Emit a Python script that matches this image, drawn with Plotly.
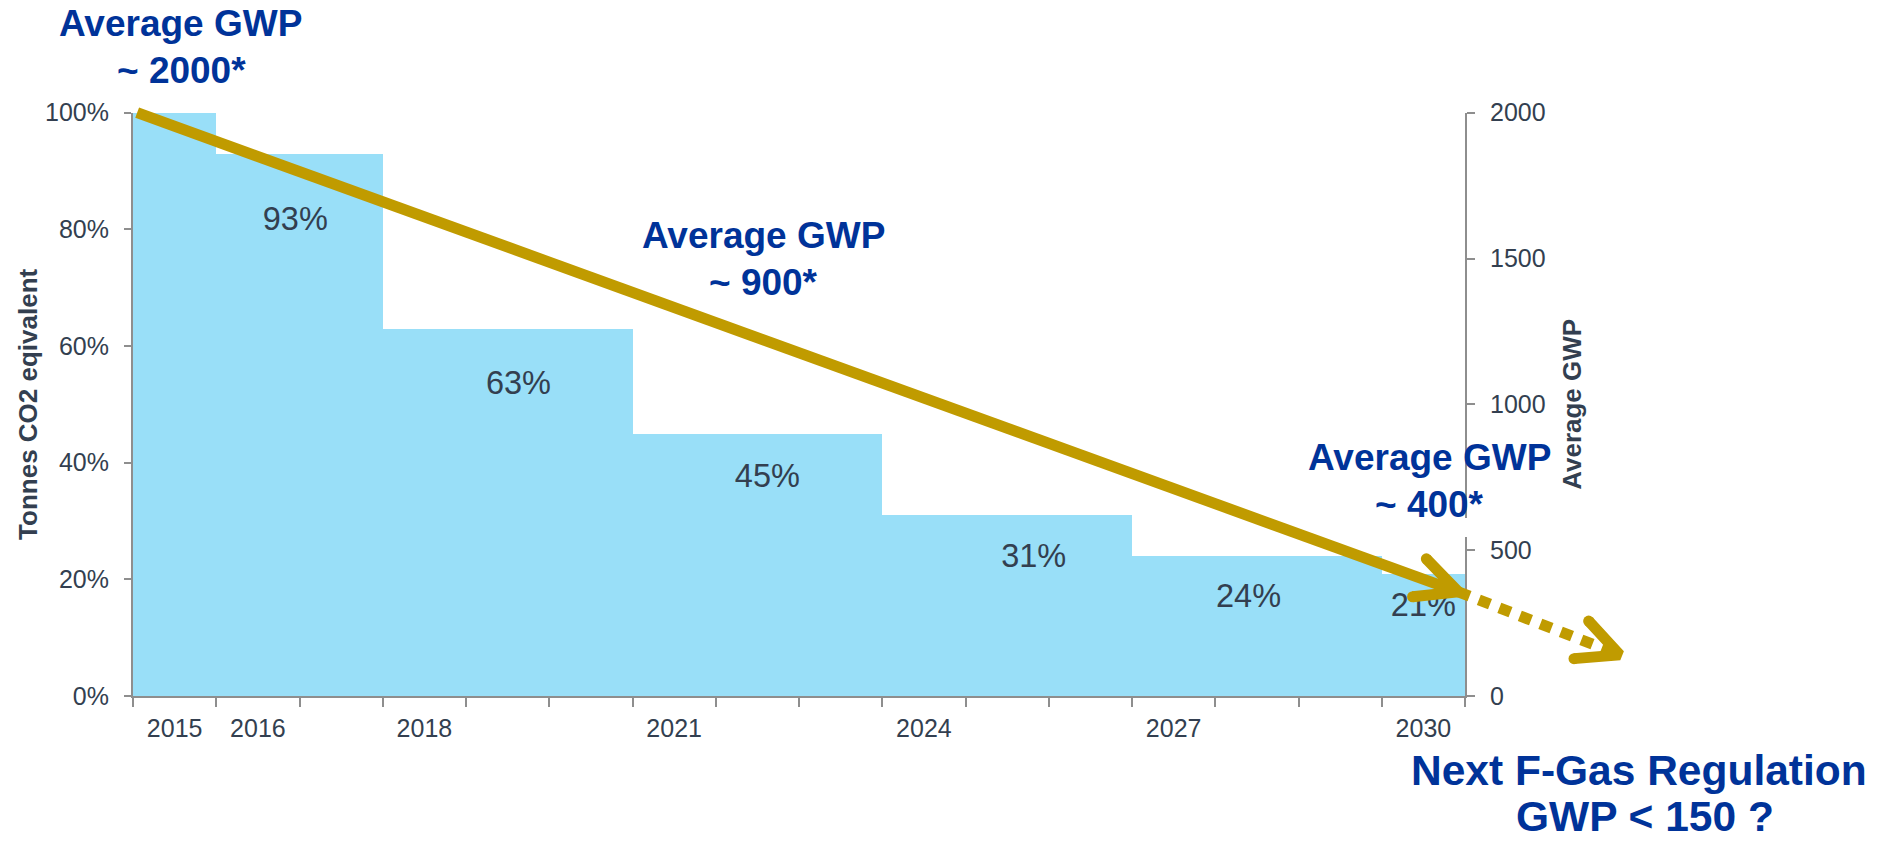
import math
import plotly.graph_objects as go

# ---------------- data ----------------
phase_years = [2015, 2016, 2018, 2021, 2024, 2027, 2030]       # phase-down steps (tick labels)
phase_pct = [100, 93, 63, 45, 31, 24, 21]                       # % of baseline CO2-eq
all_years = list(range(2015, 2031))

label_years = [2016.45, 2019.13, 2022.12, 2025.32, 2027.9, 2030.0]   # where the step labels sit
label_pct = [81.3, 53.2, 37.2, 23.5, 16.6, 15.1]

gwp_trend_years = [2014.55, 2030.42]      # average GWP trend (solid arrow)
gwp_trend_values = [2000, 357]
gwp_next_years = [2030.42, 2032.36]       # next regulation (dotted arrow)
gwp_next_values = [357, 141]

pct_ticks = [0, 20, 40, 60, 80, 100]
gwp_ticks = [0, 500, 1000, 1500, 2000]

# ---------------- derived ----------------
def pct_for(year):
    v = phase_pct[0]
    for py, pp in zip(phase_years, phase_pct):
        if py <= year:
            v = pp
    return v

pct_by_year = [pct_for(y) for y in all_years]
label_text = [f"{p}%" for p in phase_pct[1:]]

# ---------------- styling ----------------
W, H = 1882, 841
FONT = "Liberation Sans, Arial, sans-serif"
BAR = "#99DFF8"
GOLD = "#C09B00"
BLUE = "#003399"
TXT = "#333F50"
AX = "#8E8E8E"


def fx(X):
    return X / W


def fy(Y):
    return 1 - Y / H


x_dom = [fx(133), fx(1465)]
y_dom = [fy(696), fy(112.7)]
x_rng = [2014.5, 2030.5]
g_rng = [0, 2000]

# full-figure overlay axes with the same scale (for arrows that leave the plot area)
ux = (x_rng[1] - x_rng[0]) / (x_dom[1] - x_dom[0])
uy = (g_rng[1] - g_rng[0]) / (y_dom[1] - y_dom[0])
x3_rng = [x_rng[0] - x_dom[0] * ux, x_rng[1] + (1 - x_dom[1]) * ux]
y3_rng = [g_rng[0] - y_dom[0] * uy, g_rng[1] + (1 - y_dom[1]) * uy]
sx = W / (x3_rng[1] - x3_rng[0])   # px per year
sy = H / (y3_rng[1] - y3_rng[0])   # px per GWP unit


def arrow_head(xs, ys, length=46, spread=26):
    dx = (xs[-1] - xs[-2]) * sx
    dy = (ys[-1] - ys[-2]) * sy
    th = math.atan2(dy, dx) + math.pi
    hx, hy = [], []
    for s in (spread, None, -spread):
        if s is None:
            hx.append(xs[-1]); hy.append(ys[-1])
        else:
            a = th + math.radians(s)
            hx.append(xs[-1] + length * math.cos(a) / sx)
            hy.append(ys[-1] + length * math.sin(a) / sy)
    return hx, hy


fig = go.Figure()

fig.add_trace(go.Bar(
    x=all_years, y=pct_by_year, width=1,
    marker=dict(color=BAR, line=dict(width=0)),
    xaxis="x", yaxis="y", hoverinfo="skip",
))

# invisible carrier so the secondary (GWP) axis is drawn
fig.add_trace(go.Scatter(
    x=gwp_trend_years, y=gwp_trend_values, mode="lines", opacity=0,
    line=dict(width=0), xaxis="x", yaxis="y2", hoverinfo="skip",
))

fig.add_trace(go.Scatter(
    x=label_years, y=label_pct, mode="text", text=label_text,
    textfont=dict(family=FONT, size=32.5, color=TXT),
    xaxis="x", yaxis="y", cliponaxis=False, hoverinfo="skip",
))

# arrows on the overlay canvas
lw = 11
fig.add_trace(go.Scatter(
    x=gwp_trend_years, y=gwp_trend_values, mode="lines",
    line=dict(color=GOLD, width=lw), xaxis="x3", yaxis="y3", hoverinfo="skip",
))
fig.add_trace(go.Scatter(
    x=gwp_next_years, y=gwp_next_values, mode="lines",
    line=dict(color=GOLD, width=lw, dash="12px,10px"), xaxis="x3", yaxis="y3", hoverinfo="skip",
))
for xs, ys in ((gwp_trend_years, gwp_trend_values), (gwp_next_years, gwp_next_values)):
    hx, hy = arrow_head(xs, ys)
    fig.add_trace(go.Scatter(
        x=hx, y=hy, mode="lines", line=dict(color=GOLD, width=lw),
        xaxis="x3", yaxis="y3", hoverinfo="skip",
    ))
    fig.add_trace(go.Scatter(
        x=[hx[0], hx[2]], y=[hy[0], hy[2]], mode="markers",
        marker=dict(color=GOLD, size=lw, line=dict(width=0)),
        xaxis="x3", yaxis="y3", hoverinfo="skip",
    ))

tickfont = dict(family=FONT, size=25, color=TXT)
titlefont = dict(family=FONT, size=26, color=TXT, weight="bold")

fig.update_layout(
    width=W, height=H, autosize=False,
    margin=dict(l=0, r=0, t=0, b=0, autoexpand=False),
    paper_bgcolor="white", plot_bgcolor="rgba(0,0,0,0)",
    showlegend=False, bargap=0, hovermode=False,
    font=dict(family=FONT, color=TXT),
    xaxis=dict(
        domain=x_dom, range=x_rng, type="linear", anchor="y", automargin=False,
        tickvals=phase_years, ticktext=[str(y) for y in phase_years],
        ticks="", showline=True, linecolor=AX, linewidth=2,
        showgrid=False, zeroline=False, tickfont=tickfont, ticklabelstandoff=9,
        minor=dict(tick0=2014.5, dtick=1, ticks="outside", ticklen=9,
                   tickwidth=2, tickcolor=AX, showgrid=False),
    ),
    yaxis=dict(
        domain=y_dom, range=[0, 100], anchor="x", automargin=False,
        tickvals=pct_ticks, ticktext=[f"{v}%" for v in pct_ticks],
        ticks="outside", ticklen=7,
        tickwidth=2, tickcolor=AX, showline=True, linecolor=AX, linewidth=2,
        showgrid=False, zeroline=False, tickfont=tickfont, ticklabelstandoff=10,
        title=dict(text="Tonnes CO2 eqivalent", font=titlefont, standoff=0),
    ),
    yaxis2=dict(
        overlaying="y", side="right", anchor="x", range=g_rng, automargin=False,
        tickvals=gwp_ticks, ticktext=[str(v) for v in gwp_ticks],
        ticks="outside", ticklen=8, tickwidth=2, tickcolor=AX,
        showline=True, linecolor=AX, linewidth=2, showgrid=False, zeroline=False,
        tickfont=tickfont, ticklabelstandoff=10,
        title=dict(text="Average GWP", font=titlefont, standoff=18),
    ),
    xaxis3=dict(domain=[0, 1], range=x3_rng, anchor="y3", visible=False,
                fixedrange=True, automargin=False),
    yaxis3=dict(domain=[0, 1], range=y3_rng, anchor="x3", visible=False,
                fixedrange=True, automargin=False),
)

# small break in the right axis line under the "~ 400*" callout
fig.add_shape(type="rect", xref="paper", yref="paper",
              x0=fx(1460), x1=fx(1470), y0=fy(537), y1=fy(518),
              fillcolor="white", line=dict(width=0), layer="above")

ann_font = dict(family=FONT, size=37, color=BLUE, weight="bold")
big_font = dict(family=FONT, size=42.5, color=BLUE, weight="bold")

# (text, centre x, baseline y, font)
annots = [
    ("Average GWP", 180, 36.7, ann_font),
    ("~ 2000*", 181.5, 83.3, ann_font),
    ("Average GWP", 763, 248, ann_font),
    ("~ 900*", 763.5, 295, ann_font),
    ("Average GWP", 1429, 470, ann_font),
    ("~ 400*", 1429, 517, ann_font),
    ("Next F-Gas Regulation", 1639, 785, big_font),
    ("GWP &lt; 150 ?", 1645, 831, big_font),
]
for text, xp, base, f in annots:
    yc = base - 0.3465 * f["size"]
    fig.add_annotation(
        text=text, x=fx(xp), y=fy(yc), xref="paper", yref="paper",
        xanchor="center", yanchor="middle", showarrow=False, font=f,
        align="center", borderpad=0,
    )

fig.write_html(
    "out.html",
    config={"displayModeBar": False, "staticPlot": True},
    post_script="document.body.style.margin='0px';document.body.style.overflow='hidden';",
)
